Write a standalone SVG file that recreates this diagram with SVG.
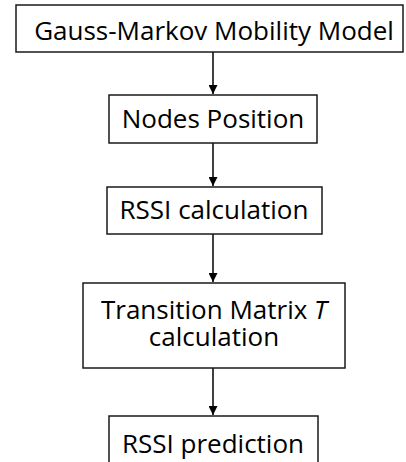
<svg xmlns="http://www.w3.org/2000/svg" width="406" height="462" viewBox="0 0 406 462">
  <style>
    .box { fill: #ffffff; stroke: #1a1a1a; stroke-width: 1.5; }
    .lbl { font-family: "Open Sans", "Liberation Sans", sans-serif; font-size: 26px; fill: #000000; text-anchor: middle; }
    .conn { stroke: #000000; stroke-width: 1.5; fill: none; marker-end: url(#arrow); }
  </style>
  <defs>
    <marker id="arrow" viewBox="0 0 10 10" refX="10" refY="5" markerWidth="9" markerHeight="9" markerUnits="userSpaceOnUse" orient="auto">
      <path d="M0,0 L10,5 L0,10 Z" fill="#000000"/>
    </marker>
  </defs>
  <rect width="406" height="462" fill="#ffffff"/>

  <g id="connectors">
    <line class="conn" x1="213" y1="52" x2="213" y2="94"/>
    <line class="conn" x1="213" y1="143" x2="213" y2="186"/>
    <line class="conn" x1="213" y1="234" x2="213" y2="282"/>
    <line class="conn" x1="213" y1="368" x2="213" y2="415"/>
  </g>

  <g id="gauss-markov">
    <rect class="box" x="16" y="5" width="387" height="47"/>
    <text class="lbl" x="214" y="40">Gauss-Markov Mobility Model</text>
  </g>

  <g id="nodes-position">
    <rect class="box" x="109" y="95" width="208" height="48"/>
    <text class="lbl" x="213" y="128">Nodes Position</text>
  </g>

  <g id="rssi-calculation">
    <rect class="box" x="107" y="187" width="215" height="47"/>
    <text class="lbl" x="214" y="219">RSSI calculation</text>
  </g>

  <g id="transition-matrix">
    <rect class="box" x="83" y="283" width="262" height="85"/>
    <text class="lbl"><tspan x="214" y="319">Transition Matrix <tspan font-style="italic">T</tspan></tspan><tspan x="214" y="346">calculation</tspan></text>
  </g>

  <g id="rssi-prediction">
    <rect class="box" x="109" y="416" width="209" height="60"/>
    <text class="lbl" x="213" y="453">RSSI prediction</text>
  </g>
</svg>
